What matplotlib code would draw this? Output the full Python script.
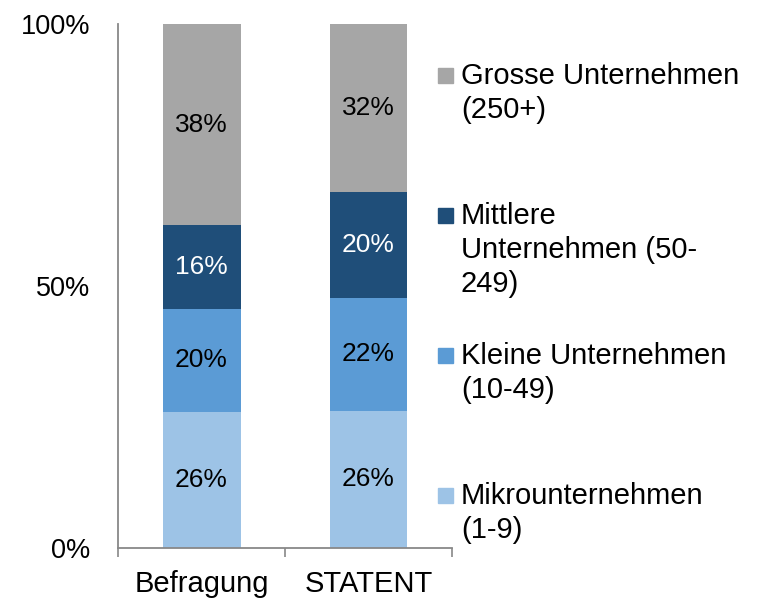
import matplotlib.pyplot as plt
from matplotlib.patches import Rectangle

plt.rcParams['font.family'] = ['Liberation Sans', 'DejaVu Sans']

# data (shares in %)
categories = ['Befragung', 'STATENT']
mikro = [25.9, 26.2]
kleine = [19.8, 21.6]
mittlere = [15.9, 20.1]
grosse = [38.4, 32.1]

series = [mikro, kleine, mittlere, grosse]
labels = ['Mikrounternehmen\n(1-9)', 'Kleine Unternehmen\n(10-49)',
          'Mittlere\nUnternehmen (50-\n249)', 'Grosse Unternehmen\n(250+)']
colors = ['#9dc3e6', '#5b9bd5', '#1f4e79', '#a6a6a6']
text_colors = ['black', 'black', 'white', 'black']

fig = plt.figure(figsize=(7.64, 6), dpi=100)
ax = fig.add_axes([0.1545, 0.0867, 0.4371, 0.8733])

x = list(range(len(categories)))
bottom = [0, 0]
for vals, col, tcol in zip(series, colors, text_colors):
    bars = ax.bar(x, vals, width=0.467, bottom=bottom, color=col)
    for b, v, bt in zip(bars, vals, bottom):
        ax.text(b.get_x() + b.get_width() / 2, bt + v / 2, f'{v:.0f}%',
                ha='center', va='center', fontsize=19, color=tcol)
    bottom = [a + v for a, v in zip(bottom, vals)]

ax.set_xlim(-0.5, 1.5)
ax.set_ylim(0, 100)
ax.set_yticks([0, 50, 100])
ax.set_yticklabels(['0%', '50%', '100%'])
ax.set_xticks(x)
ax.set_xticklabels(categories)
ax.set_xticks([-0.5, 0.5, 1.5], minor=True)
ax.tick_params(axis='y', length=0, pad=20, labelsize=19.5)
ax.tick_params(axis='x', which='major', length=0, pad=16, labelsize=21)
ax.tick_params(axis='x', which='minor', length=6.5, width=1.2, color='#888888')

for s in ['top', 'right']:
    ax.spines[s].set_visible(False)
for s in ['left', 'bottom']:
    ax.spines[s].set_color('#888888')
    ax.spines[s].set_linewidth(1.3)

# legend, top to bottom (first-line baselines in pixels)
leg_base = [83, 223, 363, 503]
for lab, col, yy in zip(labels[::-1], colors[::-1], leg_base):
    fy = 1 - yy / 600
    fig.add_artist(Rectangle((438 / 764, fy), 15 / 764, 15 / 600,
                             transform=fig.transFigure, color=col))
    fig.text(461 / 764, fy + 21 / 600, lab, ha='left', va='top', fontsize=21,
             linespacing=1.28)

plt.savefig('out.png', dpi=100)
